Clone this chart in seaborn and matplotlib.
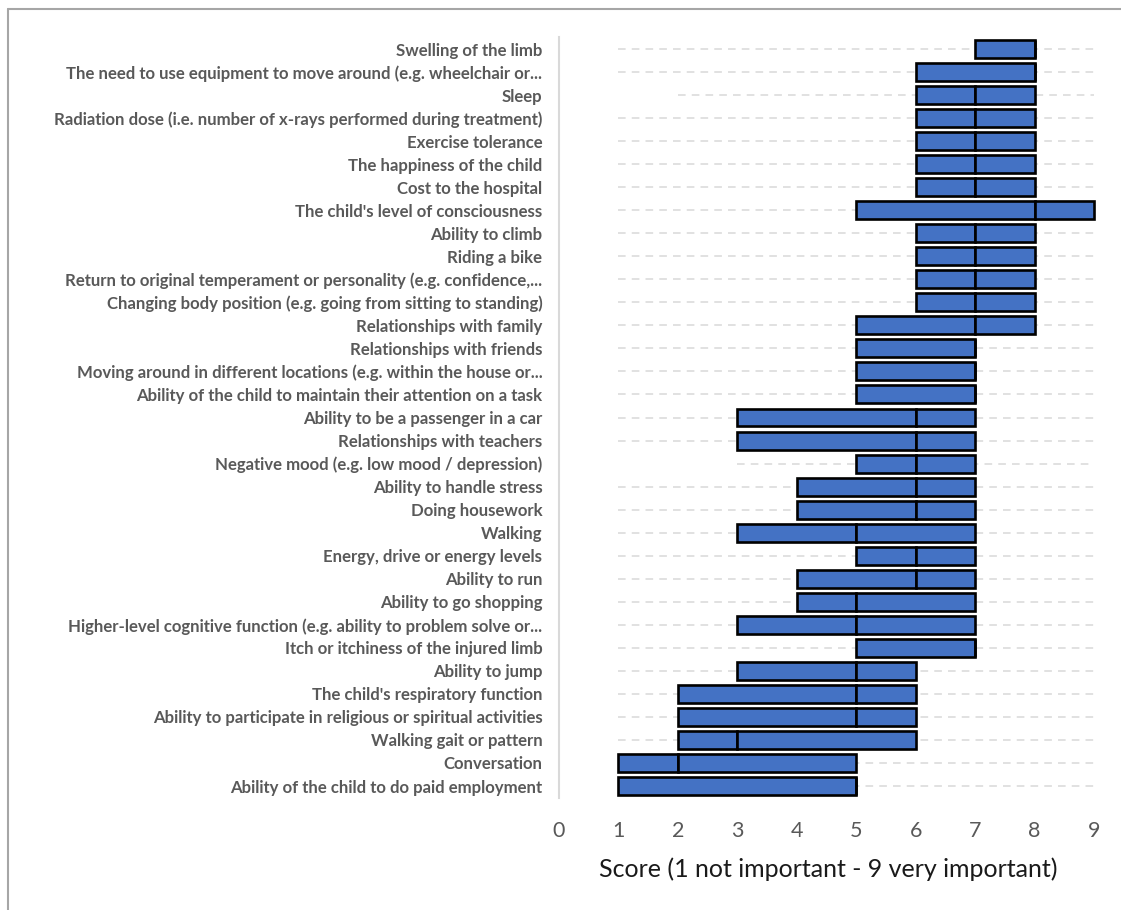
import matplotlib
matplotlib.use("Agg")
import matplotlib.pyplot as plt
from matplotlib.lines import Line2D
import numpy as np
import pandas as pd
import seaborn as sns

# --- data (top row first) ---
labels = [
    "Swelling of the limb",
    "The need to use equipment to move around (e.g. wheelchair or...",
    "Sleep",
    "Radiation dose (i.e. number of x-rays performed during treatment)",
    "Exercise tolerance",
    "The happiness of the child",
    "Cost to the hospital",
    "The child's level of consciousness",
    "Ability to climb",
    "Riding a bike",
    "Return to original temperament or personality (e.g. confidence,...",
    "Changing body position (e.g. going from sitting to standing)",
    "Relationships with family",
    "Relationships with friends",
    "Moving around in different locations (e.g. within the house or...",
    "Ability of the child to maintain their attention on a task",
    "Ability to be a passenger in a car",
    "Relationships with teachers",
    "Negative mood (e.g. low mood / depression)",
    "Ability to handle stress",
    "Doing housework",
    "Walking",
    "Energy, drive or energy levels",
    "Ability to run",
    "Ability to go shopping",
    "Higher-level cognitive function (e.g. ability to problem solve or...",
    "Itch or itchiness of the injured limb",
    "Ability to jump",
    "The child's respiratory function",
    "Ability to participate in religious or spiritual activities",
    "Walking gait or pattern",
    "Conversation",
    "Ability of the child to do paid employment",
]
q1 = [7, 6, 6, 6, 6, 6, 6, 5, 6, 6, 6, 6, 5, 5, 5, 5, 3, 3, 5, 4, 4, 3, 5, 4, 4, 3, 5, 3, 2, 2, 2, 1, 1]
median = [8, 8, 7, 7, 7, 7, 7, 8, 7, 7, 7, 7, 7, 7, 7, 7, 6, 6, 6, 6, 6, 5, 6, 6, 5, 5, 7, 5, 5, 5, 3, 2, 5]
q3 = [8, 8, 8, 8, 8, 8, 8, 9, 8, 8, 8, 8, 8, 7, 7, 7, 7, 7, 7, 7, 7, 7, 7, 7, 7, 7, 7, 6, 6, 6, 6, 5, 5]
low = [1, 1, 2, 1, 1, 1, 1, 1, 1, 1, 1, 1, 1, 1, 1, 1, 1, 1, 3, 1, 1, 1, 1, 1, 1, 1, 1, 1, 1, 1, 1, 1, 1]
high = [9] * len(labels)

df = pd.DataFrame({"item": labels, "q1": q1, "median": median, "q3": q3,
                   "low": low, "high": high})
df["lower_part"] = df["median"] - df["q1"]
df["upper_part"] = df["q3"] - df["median"]

sns.set_style("white")
plt.rcParams["font.family"] = ["Lato", "DejaVu Sans"]

fig = plt.figure(figsize=(11.21, 9.10), dpi=100)
ax = fig.add_axes([0.4987, 0.1236, 0.4799, 0.8352])

box_color = "#4472C4"
sns.barplot(data=df, y="item", x="lower_part", left=df["q1"].values,
            color=box_color, edgecolor="black", linewidth=1.9,
            width=0.78, orient="h", ax=ax, saturation=1, zorder=3)
sns.barplot(data=df, y="item", x="upper_part", left=df["median"].values,
            color=box_color, edgecolor="black", linewidth=1.9,
            width=0.78, orient="h", ax=ax, saturation=1, zorder=3)

# min-max range as light dashed lines behind the boxes
ypos = np.arange(len(df))
ax.hlines(ypos, df["low"], df["high"], colors="#d9d9d9",
          linestyles=(0, (5, 4)), linewidth=1.1, zorder=1)

ax.set_xlim(0, 9.05)
ax.set_ylim(len(df) - 0.5, -0.5)
ax.set_xticks(range(0, 10))
ax.tick_params(axis="x", length=0, pad=17, labelsize=15.5, labelcolor="#595959")
ax.tick_params(axis="y", length=0, pad=12, labelsize=12.1, labelcolor="#595959")
for t in ax.get_yticklabels():
    t.set_fontweight("bold")
ax.set_ylabel("")
ax.set_xlabel("Score (1 not important - 9 very important)", fontsize=18,
              color="#1a1a1a", labelpad=12)

for side in ["top", "right", "bottom"]:
    ax.spines[side].set_visible(False)
ax.spines["left"].set_color("#d9d9d9")
ax.spines["left"].set_linewidth(1.5)

# chart-area border (left and top edges visible in the crop)
fig.add_artist(Line2D([8 / 1121, 8 / 1121], [0, 1 - 9 / 910],
                      transform=fig.transFigure, color="#a6a6a6", lw=1.5))
fig.add_artist(Line2D([8 / 1121, 1], [1 - 9 / 910, 1 - 9 / 910],
                      transform=fig.transFigure, color="#a6a6a6", lw=1.5))

fig.savefig("out.png", dpi=100)
